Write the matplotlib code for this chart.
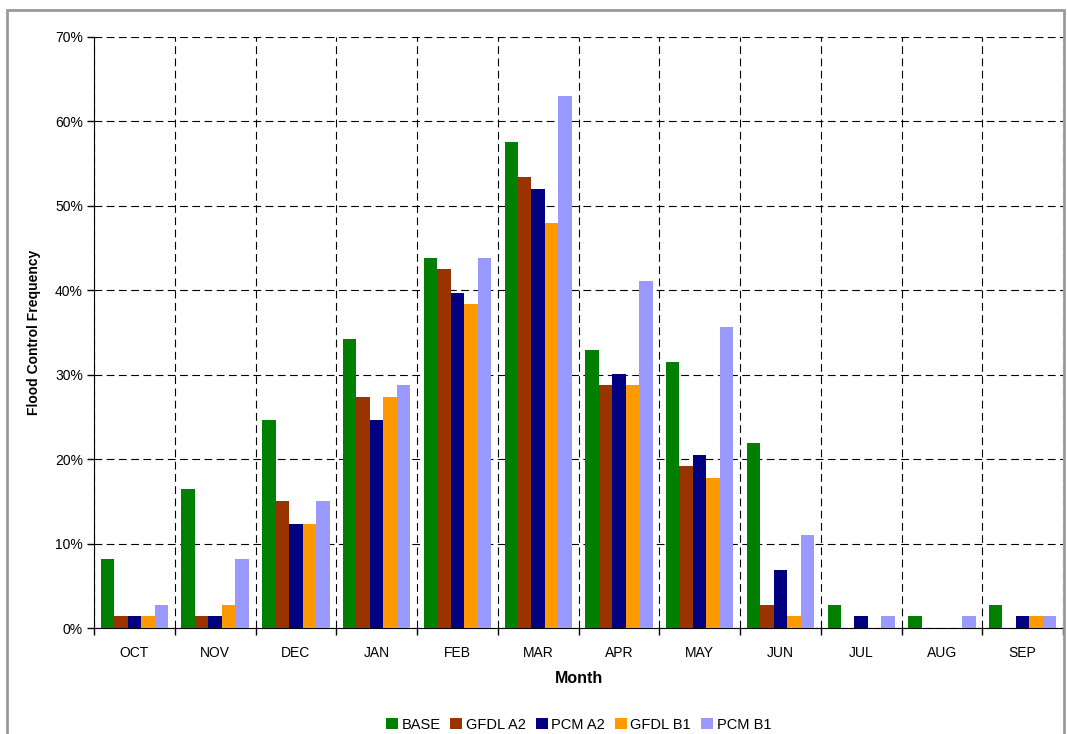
import numpy as np
import matplotlib.pyplot as plt
from matplotlib.patches import Rectangle
from matplotlib.ticker import PercentFormatter

plt.rcParams['font.family'] = ['Liberation Sans', 'DejaVu Sans']

months = ['OCT', 'NOV', 'DEC', 'JAN', 'FEB', 'MAR', 'APR', 'MAY', 'JUN', 'JUL', 'AUG', 'SEP']
series = ['BASE', 'GFDL A2', 'PCM A2', 'GFDL B1', 'PCM B1']
colors = ['#008000', '#993300', '#000080', '#FF9900', '#9999FF']

# flood control frequency in percent
base    = [8.22, 16.44, 24.66, 34.25, 43.84, 57.53, 32.88, 31.51, 21.92, 2.74, 1.37, 2.74]
gfdl_a2 = [1.37, 1.37, 15.07, 27.40, 42.47, 53.42, 28.77, 19.18, 2.74, 0, 0, 0]
pcm_a2  = [1.37, 1.37, 12.33, 24.66, 39.73, 52.05, 30.14, 20.55, 6.85, 1.37, 0, 1.37]
gfdl_b1 = [1.37, 2.74, 12.33, 27.40, 38.36, 47.95, 28.77, 17.81, 1.37, 0, 0, 1.37]
pcm_b1  = [2.74, 8.22, 15.07, 28.77, 43.84, 63.01, 41.10, 35.62, 10.96, 1.37, 1.37, 1.37]
data = [base, gfdl_a2, pcm_a2, gfdl_b1, pcm_b1]

fig = plt.figure(figsize=(10.67, 7.34), dpi=100)
ax = fig.add_axes([0.0881, 0.1444, 0.9082, 0.8052])

# outer chart border
fig.patches.append(Rectangle((0.0066, -0.02), 0.991, 1.0064, transform=fig.transFigure,
                             fill=False, edgecolor='#999999', linewidth=2))

x = np.arange(len(months))
w = 1 / 6
for i, (name, vals, c) in enumerate(zip(series, data, colors)):
    ax.bar(x + (i - 2) * w, vals, width=w, color=c, label=name, zorder=3)

ax.set_xlim(-0.5, len(months) - 0.5)
ax.set_ylim(0, 70)
ax.set_yticks(np.arange(0, 71, 10))
ax.yaxis.set_major_formatter(PercentFormatter(decimals=0))
ax.set_xticks(x)
ax.set_xticklabels(months)
ax.set_xticks(np.arange(-0.5, len(months)), minor=True)
ax.tick_params(axis='x', which='major', length=0, pad=13, labelsize=10)
ax.tick_params(axis='x', which='minor', length=5, width=1)
ax.tick_params(axis='y', length=5, width=1, labelsize=10, pad=3)

ax.grid(axis='y', which='major', color='black', linestyle=(0, (7, 4)), linewidth=0.8, zorder=0)
ax.grid(axis='x', which='minor', color='black', linestyle=(0, (7, 4)), linewidth=0.8, zorder=0)
ax.spines['top'].set_visible(False)
ax.spines['right'].set_visible(False)

ax.set_xlabel('Month', fontsize=11.5, fontweight='bold', labelpad=8)
ax.set_ylabel('Flood Control Frequency', fontsize=10, fontweight='bold', labelpad=10)

ax.legend(loc='upper center', bbox_to_anchor=(0.5, -0.13), ncol=5, frameon=False,
          fontsize=10.5, handlelength=0.8, handleheight=0.8, handletextpad=0.25,
          columnspacing=0.7)

fig.savefig('out.png', dpi=100)
